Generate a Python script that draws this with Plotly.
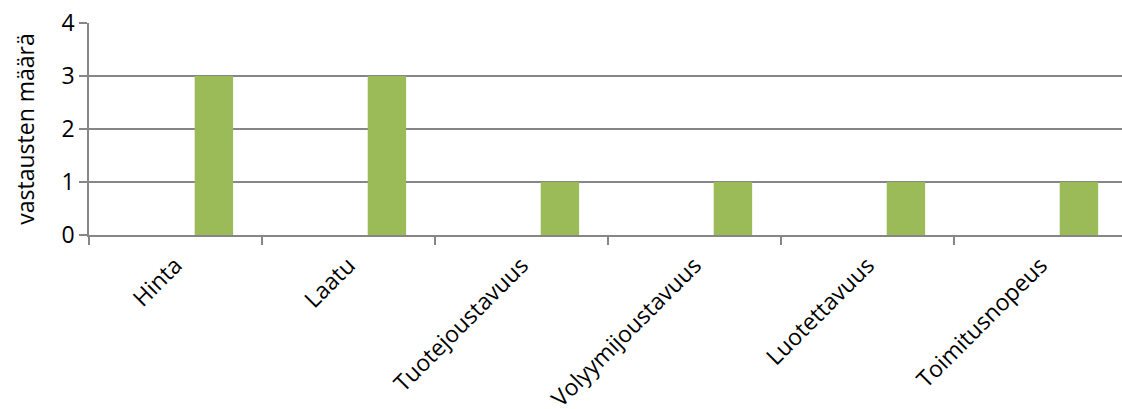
import plotly.graph_objects as go

# Survey answers: number of responses per selection criterion
categories = ["Hinta", "Laatu", "Tuotejoustavuus", "Volyymijoustavuus", "Luotettavuus", "Toimitusnopeus"]
answers = [3, 3, 1, 1, 1, 1]
y_ticks = [0, 1, 2, 3, 4]

GRID = "#868686"
FONT = "Open Sans"

fig = go.Figure()
fig.add_trace(go.Bar(
    x=categories,
    y=answers,
    marker=dict(color="#9BBB59", line=dict(width=0)),
    # third slot of a three-wide cluster
    width=0.222,
    offset=0.111,
    showlegend=False,
))

fig.update_layout(
    width=1122,
    height=409,
    margin=dict(l=89, r=0, t=23, b=174),
    paper_bgcolor="white",
    plot_bgcolor="white",
    font=dict(family=FONT, size=22, color="black"),
    xaxis=dict(
        range=[-0.5, 5.471],
        automargin=False,
        tickangle=-45,
        tickson="boundaries",
        ticks="outside",
        ticklen=8,
        tickwidth=1.5,
        tickcolor=GRID,
        showline=True,
        linecolor=GRID,
        linewidth=1.5,
        showgrid=False,
        ticklabelstandoff=6,
        tickfont=dict(family=FONT, size=23),
    ),
    yaxis=dict(
        range=[0, 4],
        automargin=False,
        tickvals=y_ticks,
        ticks="outside",
        ticklen=8,
        tickwidth=1.5,
        tickcolor=GRID,
        showline=True,
        linecolor=GRID,
        linewidth=1.5,
        showgrid=True,
        gridcolor=GRID,
        gridwidth=1.5,
        zeroline=False,
        tickfont=dict(family=FONT, size=23),
        title=dict(text="vastausten määrä", font=dict(family=FONT, size=23), standoff=20),
    ),
)

fig.write_html("out.html")
